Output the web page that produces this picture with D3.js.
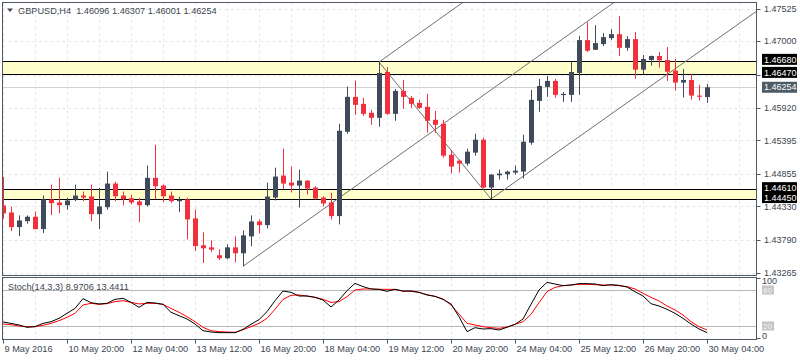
<!DOCTYPE html>
<html><head><meta charset="utf-8">
<script src="https://cdn.jsdelivr.net/npm/d3@7"></script>
<style>
body{margin:0;background:#fff}
svg{display:block}
text{font-family:"Liberation Sans",Arial,sans-serif;}
</style>
</head><body>
<svg id="chart" width="800" height="360"></svg>
<script>
// ---------------- data ----------------
const symbolTitle = "GBPUSD,H4  1.46096 1.46307 1.46001 1.46254";
const stochTitle = "Stoch(14,3,3) 8.9706 13.4411";

const opens = [1.44347,1.44234,1.43998,1.44094,1.44165,1.43966,1.44443,1.44395,1.44351,1.44438,
1.44507,1.44491,1.44207,1.44319,1.44700,1.44507,1.44464,1.44411,1.44351,1.44792,
1.44668,1.44507,1.44416,1.44443,1.44138,1.43704,1.43671,1.43543,1.43495,1.43671,
1.43575,1.43848,1.44089,1.44030,1.44475,1.44829,1.44716,1.44668,1.44748,1.44636,
1.44475,1.44395,1.44175,1.45536,1.46099,1.45986,1.45842,1.45761,1.46501,1.45825,
1.46195,1.46083,1.46002,1.45938,1.45729,1.45665,1.45166,1.45070,1.45022,1.45199,
1.45408,1.44636,1.44834,1.44850,1.44877,1.44893,1.45359,1.46034,1.46260,1.46356,
1.46131,1.46131,1.46485,1.47015,1.46859,1.46951,1.47047,1.47111,1.46891,1.47031,
1.46538,1.46694,1.46758,1.46694,1.46522,1.46329,1.46372,1.46120,1.46096];

const highs = [1.44808,1.44326,1.44186,1.44186,1.44250,1.44507,1.44684,1.44792,1.44470,1.44684,
1.44572,1.44684,1.44631,1.44893,1.44732,1.44572,1.44523,1.44470,1.44990,1.45327,
1.44684,1.44572,1.44486,1.44470,1.44282,1.43913,1.43784,1.43639,1.43720,1.43848,
1.43945,1.44186,1.44122,1.44716,1.44957,1.45263,1.44974,1.44925,1.44755,1.44657,
1.44496,1.44551,1.45665,1.46264,1.46361,1.46083,1.45890,1.46661,1.46581,1.46227,
1.46372,1.46115,1.46051,1.46147,1.45874,1.45729,1.45231,1.45086,1.45263,1.45504,
1.45440,1.44850,1.44925,1.44909,1.44990,1.45488,1.46211,1.46388,1.46436,1.46388,
1.46179,1.46661,1.47079,1.47304,1.47256,1.47128,1.47192,1.47401,1.47079,1.47144,
1.46774,1.46765,1.46822,1.46903,1.46710,1.46549,1.46468,1.46292,1.46307];

const lows = [1.44133,1.43933,1.43853,1.44052,1.43960,1.43901,1.44191,1.44223,1.44277,1.44416,
1.44416,1.44094,1.43966,1.44277,1.44416,1.44351,1.44363,1.44078,1.44331,1.44448,
1.44400,1.44390,1.44239,1.43800,1.43612,1.43419,1.43596,1.43467,1.43479,1.43430,
1.43366,1.43688,1.43896,1.43977,1.44427,1.44604,1.44556,1.44314,1.44523,1.44443,
1.44335,1.44122,1.44041,1.45504,1.45809,1.45793,1.45649,1.45617,1.45809,1.45713,
1.45906,1.45922,1.45906,1.45520,1.45520,1.45118,1.44861,1.44877,1.44990,1.45150,
1.44620,1.44451,1.44765,1.44765,1.44845,1.44781,1.45327,1.45858,1.46099,1.46083,
1.46018,1.46018,1.46131,1.46822,1.46859,1.46919,1.47015,1.46758,1.46843,1.46393,
1.46468,1.46602,1.46570,1.46356,1.46200,1.46088,1.46055,1.46039,1.46001];

const closes = [1.44218,1.43998,1.44105,1.44165,1.43966,1.44443,1.44384,1.44351,1.44427,1.44507,
1.44475,1.44207,1.44331,1.44700,1.44496,1.44448,1.44395,1.44351,1.44792,1.44657,
1.44496,1.44416,1.44438,1.44122,1.43692,1.43655,1.43634,1.43495,1.43671,1.43575,
1.43864,1.44089,1.44030,1.44491,1.44813,1.44700,1.44668,1.44748,1.44620,1.44459,
1.44379,1.44175,1.45552,1.46099,1.45970,1.45825,1.45761,1.46485,1.45825,1.46195,
1.46099,1.45986,1.45922,1.45713,1.45649,1.45150,1.44974,1.45022,1.45215,1.45408,
1.44636,1.44845,1.44861,1.44893,1.44909,1.45375,1.46051,1.46276,1.46356,1.46131,
1.46147,1.46501,1.47015,1.46843,1.46967,1.47063,1.47111,1.46891,1.47031,1.46538,
1.46710,1.46758,1.46689,1.46505,1.46329,1.46372,1.46120,1.46104,1.46254];

const stochK = [26.7,24.4,21.7,17.8,18.9,24.4,27.2,32.8,41.1,49.4,
65.6,58.9,56.7,57.8,64.4,66.1,59.4,51.1,59.4,58.3,
56.1,42.8,37.2,31.7,23.3,12.2,10.0,8.9,8.9,8.9,
14.4,22.8,30.6,43.9,62.2,78.3,76.1,70.0,70.0,67.8,
63.3,51.7,63.3,78.9,91.1,85.6,81.7,81.1,77.8,81.1,
78.3,78.3,76.1,71.7,69.4,64.4,56.7,35.6,10.6,17.2,
15.0,15.6,13.3,17.8,22.8,31.7,56.1,80.0,92.8,90.0,
87.2,88.3,90.6,90.6,90.0,87.2,88.9,87.8,85.0,77.2,
70.0,57.2,53.3,47.8,41.1,32.8,23.3,15.0,8.9706];

const stochD = [23.3,22.2,20.0,18.9,18.9,21.1,24.4,28.9,34.4,41.1,
55.0,57.8,56.1,57.2,60.6,62.2,59.4,56.7,57.8,57.8,
56.1,49.4,42.8,35.6,27.2,17.8,12.2,10.6,10.0,9.4,
13.9,18.9,24.4,32.8,47.8,64.4,71.1,71.7,70.0,67.8,
64.4,59.4,60.6,68.9,80.0,81.7,81.7,81.1,81.1,81.1,
77.8,77.8,76.1,72.2,69.4,65.0,55.0,40.0,24.4,21.7,
18.9,17.2,16.1,18.3,22.8,27.2,39.4,58.9,77.2,84.4,
87.2,88.3,89.4,89.4,88.9,88.3,88.3,87.2,85.6,81.7,
74.4,67.8,61.7,53.3,46.7,38.3,27.2,18.9,13.4411];

const priceTicks = [1.47525,1.47000,1.46460,1.45920,1.45395,1.44855,1.44330,1.43790,1.43265];
const timeLabels = ["9 May 2016","10 May 20:00","12 May 04:00","13 May 12:00","16 May 20:00","18 May 04:00",
                    "19 May 12:00","20 May 20:00","24 May 04:00","25 May 12:00","26 May 20:00","30 May 04:00"];
const timeLabelBars = [0,8,16,24,32,40,48,56,64,72,80,88];
const zoneLevels = [[1.46470,1.46680],[1.44450,1.44610]];
const levelLabels = [1.46680,1.46470,1.44610,1.44450];
const lastPrice = 1.46254;
// trend lines: [bar1, price1, bar2, price2]
const trendLines = [
  [30,1.43366,80,1.47956],
  [47,1.46661,60,1.47854],
  [47,1.46661,61,1.44451],
  [61,1.44451,95,1.47555]
];
const stochLevels = [80,20];
const stochAxisLabels = [100,0];

// ---------------- layout ----------------
const svg = d3.select("#chart");
const M = {left:2.5, right:756.5, top:2.5, bottom:275.5};
const S = {top:277.5, bottom:339.5};
const nBarsVisible = 94.25;
const x = d3.scaleLinear().domain([0, nBarsVisible]).range([3, 757]);
const y = d3.scaleLinear().domain([1.43265, 1.47525]).range([272.5, 8.5]);
const ys = d3.scaleLinear().domain([0,100]).range([338, 278]);

const BULL = "#3f4b5b", BEAR = "#f0313d", AXIS = "#4f5963", TXT = "#3c4650", GRID = "#e6e6e6";
const FS = "9.2px", FSY = "9px";

svg.append("rect").attr("width",800).attr("height",360).attr("fill","#fff");

const defs = svg.append("defs");
defs.append("clipPath").attr("id","mainclip")
  .append("rect").attr("x",M.left+0.5).attr("y",M.top+0.5).attr("width",M.right-M.left-1).attr("height",M.bottom-M.top-1);
defs.append("clipPath").attr("id","stclip")
  .append("rect").attr("x",M.left+0.5).attr("y",S.top+0.5).attr("width",M.right-M.left-1).attr("height",S.bottom-S.top-1);

const main = svg.append("g").attr("clip-path","url(#mainclip)");
const st = svg.append("g").attr("clip-path","url(#stclip)");

// vertical grid every 4 bars
const vgrid = d3.range(0, 95, 4);
[[main, M.top, M.bottom],[st, S.top, S.bottom]].forEach(([g,t,b])=>{
  g.selectAll(null).data(vgrid).join("line")
    .attr("x1",d=>Math.round(x(d))+0.5).attr("x2",d=>Math.round(x(d))+0.5)
    .attr("y1",t).attr("y2",b)
    .attr("stroke",GRID).attr("stroke-dasharray","3,3");
});
// horizontal grid
main.selectAll(null).data(priceTicks).join("line")
  .attr("x1",M.left).attr("x2",M.right)
  .attr("y1",d=>Math.round(y(d))+0.5).attr("y2",d=>Math.round(y(d))+0.5)
  .attr("stroke",GRID).attr("stroke-dasharray","3,3");

// zones
zoneLevels.forEach(([lo,hi])=>{
  main.append("rect").attr("x",M.left).attr("width",M.right-M.left)
    .attr("y",Math.round(y(hi))).attr("height",Math.round(y(lo))-Math.round(y(hi)))
    .attr("fill","#ffffcc");
  [lo,hi].forEach(v=>{
    main.append("line").attr("x1",M.left).attr("x2",M.right)
      .attr("y1",Math.round(y(v))+0.5).attr("y2",Math.round(y(v))+0.5)
      .attr("stroke","#000").attr("stroke-width",1.1);
  });
});

// last price line
main.append("line").attr("x1",M.left).attr("x2",M.right)
  .attr("y1",Math.round(y(lastPrice))+0.5).attr("y2",Math.round(y(lastPrice))+0.5)
  .attr("stroke","#d2d2d2");

// trend lines
main.selectAll(null).data(trendLines).join("line")
  .attr("x1",d=>x(d[0])).attr("y1",d=>y(d[1]))
  .attr("x2",d=>x(d[2])).attr("y2",d=>y(d[3]))
  .attr("stroke","#707070").attr("stroke-width",1);

// candles
const bars = opens.map((o,i)=>({i,o,h:highs[i],l:lows[i],c:closes[i]}));
const cg = main.append("g");
cg.selectAll(".wick").data(bars).join("line")
  .attr("x1",d=>Math.round(x(d.i))+0.5).attr("x2",d=>Math.round(x(d.i))+0.5)
  .attr("y1",d=>y(d.h)).attr("y2",d=>y(d.l))
  .attr("stroke",d=>d.c>=d.o?BULL:BEAR).attr("stroke-width",1);
cg.selectAll(".body").data(bars).join("rect")
  .attr("x",d=>Math.round(x(d.i))-2)
  .attr("width",5)
  .attr("y",d=>y(Math.max(d.o,d.c)))
  .attr("height",d=>Math.max(1.2, y(Math.min(d.o,d.c))-y(Math.max(d.o,d.c))))
  .attr("fill",d=>d.c>=d.o?BULL:BEAR);

// stoch levels
st.selectAll(null).data(stochLevels).join("line")
  .attr("x1",M.left).attr("x2",M.right)
  .attr("y1",d=>Math.round(ys(d))+0.5).attr("y2",d=>Math.round(ys(d))+0.5)
  .attr("stroke","#b8b8b8");
const lineS = d3.line().x((d,i)=>x(i)).y(d=>ys(d));
st.append("path").attr("d",lineS(stochD)).attr("fill","none").attr("stroke","#ff0000").attr("stroke-width",1);
st.append("path").attr("d",lineS(stochK)).attr("fill","none").attr("stroke","#000").attr("stroke-width",1);

// panel borders
[[M.top,M.bottom],[S.top,S.bottom]].forEach(([t,b])=>{
  svg.append("rect").attr("x",M.left).attr("y",t).attr("width",M.right-M.left).attr("height",b-t)
    .attr("fill","none").attr("stroke",AXIS).attr("stroke-width",1);
});

// right price axis
const ra = svg.append("g");
ra.selectAll(null).data(priceTicks).join("line")
  .attr("x1",M.right).attr("x2",M.right+4)
  .attr("y1",d=>Math.round(y(d))+0.5).attr("y2",d=>Math.round(y(d))+0.5).attr("stroke",AXIS);
// labels hidden behind level boxes are not drawn
const visibleTicks = priceTicks.filter(t=>levelLabels.every(v=>Math.abs(y(v)-y(t))>4));
ra.selectAll(null).data(visibleTicks).join("text")
  .attr("x",764).attr("y",d=>y(d)).attr("dy","0.35em")
  .attr("font-size",FSY).attr("fill",TXT).text(d=>d.toFixed(5));

// level labels
const boxY = v => y(v) - 1.5;
levelLabels.forEach(v=>{
  const cy = boxY(v);
  ra.append("rect").attr("x",762).attr("y",cy-5.5).attr("width",35).attr("height",11).attr("fill","#000");
  ra.append("text").attr("x",764).attr("y",cy).attr("dy","0.35em").attr("font-size",FSY).attr("fill","#fff").text(v.toFixed(5));
});
{
  const cy = y(lastPrice);
  ra.append("rect").attr("x",762).attr("y",cy-5.5).attr("width",35).attr("height",11).attr("fill","#4f5b66");
  ra.append("text").attr("x",764).attr("y",cy).attr("dy","0.35em").attr("font-size",FSY).attr("fill","#fff").text(lastPrice.toFixed(5));
}

// stoch axis labels
stochLevels.forEach(v=>{
  ra.append("rect").attr("x",762).attr("y",ys(v)-4.5).attr("width",12).attr("height",9).attr("fill","#c4c4c4");
  ra.append("text").attr("x",763).attr("y",ys(v)).attr("dy","0.35em").attr("font-size","8px").attr("fill","#f4f4f4").text(v);
});
ra.selectAll(null).data(stochAxisLabels).join("line")
  .attr("x1",M.right).attr("x2",M.right+4).attr("y1",d=>Math.round(ys(d))+0.5).attr("y2",d=>Math.round(ys(d))+0.5).attr("stroke",AXIS);
ra.selectAll(null).data(stochAxisLabels).join("text")
  .attr("x",762).attr("y",d=>d===100?ys(d)+3:ys(d)-2.5).attr("dy","0.35em")
  .attr("font-size",FSY).attr("fill",TXT).text(d=>d);

// time axis
const ta = svg.append("g");
ta.selectAll(null).data(timeLabelBars).join("line")
  .attr("x1",d=>Math.round(x(d))+0.5).attr("x2",d=>Math.round(x(d))+0.5)
  .attr("y1",S.bottom).attr("y2",S.bottom+4).attr("stroke",AXIS);
ta.selectAll(null).data(timeLabelBars).join("text")
  .attr("x",d=>x(d)+1.5).attr("y",349).attr("dy","0.35em")
  .attr("font-size",FS).attr("fill",TXT).text((d,i)=>timeLabels[i]);

// titles
svg.append("path").attr("d","M7,8.5 L13,8.5 L10,12 Z").attr("fill",TXT);
svg.append("text").attr("x",18).attr("y",11).attr("dy","0.35em").attr("font-size",FS).attr("fill",TXT).style("white-space","pre").text(symbolTitle);
svg.append("text").attr("x",8).attr("y",287).attr("dy","0.35em").attr("font-size",FS).attr("fill",TXT).text(stochTitle);
</script>
</body></html>
